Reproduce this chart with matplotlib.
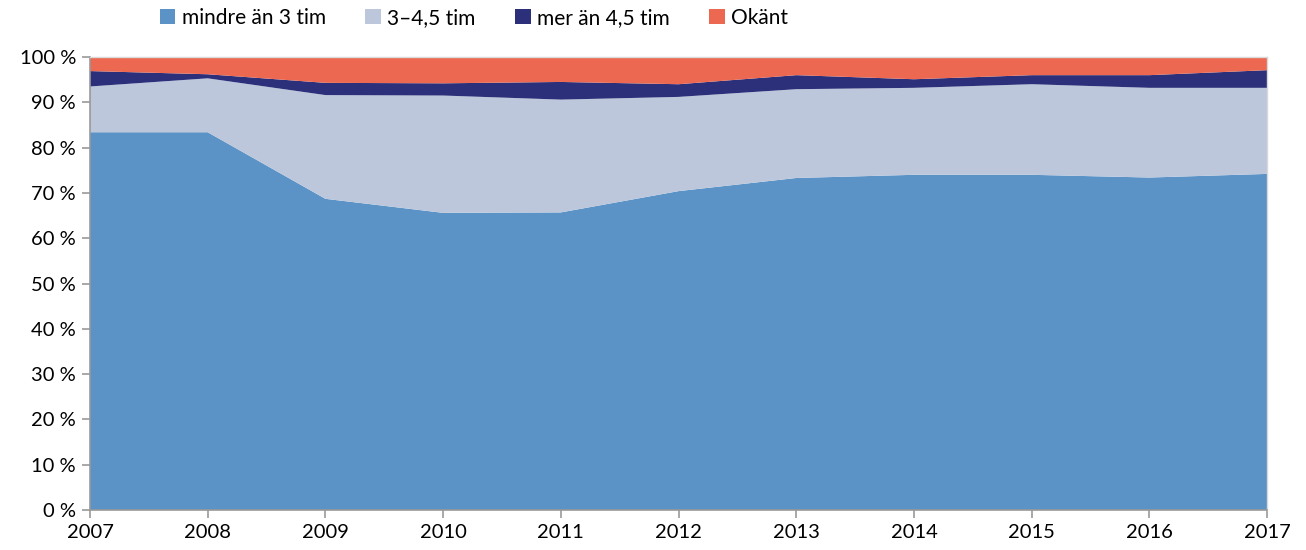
import matplotlib
matplotlib.use("Agg")
import matplotlib.pyplot as plt
from matplotlib.patches import Patch

plt.rcParams['font.family'] = ['Lato', 'DejaVu Sans']

# Years on the x axis
years = [2007, 2008, 2009, 2010, 2011, 2012, 2013, 2014, 2015, 2016, 2017]

# Share (percent) per category
mindre_an_3 = [83.4, 83.4, 68.7, 65.6, 65.7, 70.4, 73.3, 74.0, 74.0, 73.4, 74.2]
tim_3_45 = [10.1, 11.9, 22.9, 25.9, 24.9, 20.8, 19.6, 19.2, 20.0, 19.8, 19.0]
mer_an_45 = [3.4, 0.9, 2.7, 2.7, 3.9, 2.8, 3.1, 1.9, 2.0, 2.8, 3.9]
okant = [3.1, 3.8, 5.7, 5.8, 5.5, 6.0, 4.0, 4.9, 4.0, 4.0, 2.9]

labels = ["mindre än 3 tim", "3\u20134,5 tim", "mer än 4,5 tim", "Okänt"]
colors = ["#5B93C6", "#BCC7DC", "#2C307A", "#EC6850"]

fig = plt.figure(figsize=(13.06, 5.5), dpi=100)
ax = fig.add_axes([0.0689, 0.0727, 0.9014, 0.8236])

ax.stackplot(years, mindre_an_3, tim_3_45, mer_an_45, okant,
             colors=colors, linewidth=0)

ax.set_xlim(2007, 2017)
ax.set_ylim(0, 100)
ax.set_xticks(years)
ax.set_xticklabels([str(y) for y in years], fontsize=14.5)
ax.set_yticks(range(0, 101, 10))
ax.set_yticklabels([f"{v} %" for v in range(0, 101, 10)], fontsize=14.5)

for side in ["left", "bottom"]:
    ax.spines[side].set_color("#999999")
    ax.spines[side].set_linewidth(1.2)
for side in ["top", "right"]:
    ax.spines[side].set_color("#d9d9d9")
    ax.spines[side].set_linewidth(1)
ax.tick_params(axis="both", colors="#999999", labelcolor="black",
               length=6, width=1.2, direction="out")
ax.tick_params(axis="x", pad=4)
ax.tick_params(axis="y", pad=4)

handles = [Patch(facecolor=c, edgecolor="none") for c in colors]
fig.legend(handles, labels, loc="upper center", bbox_to_anchor=(0.363, 1.02),
           ncol=4, frameon=False, fontsize=15, handlelength=0.75,
           handleheight=0.75, handletextpad=0.3, columnspacing=1.9)

fig.savefig("out.png", dpi=100)
